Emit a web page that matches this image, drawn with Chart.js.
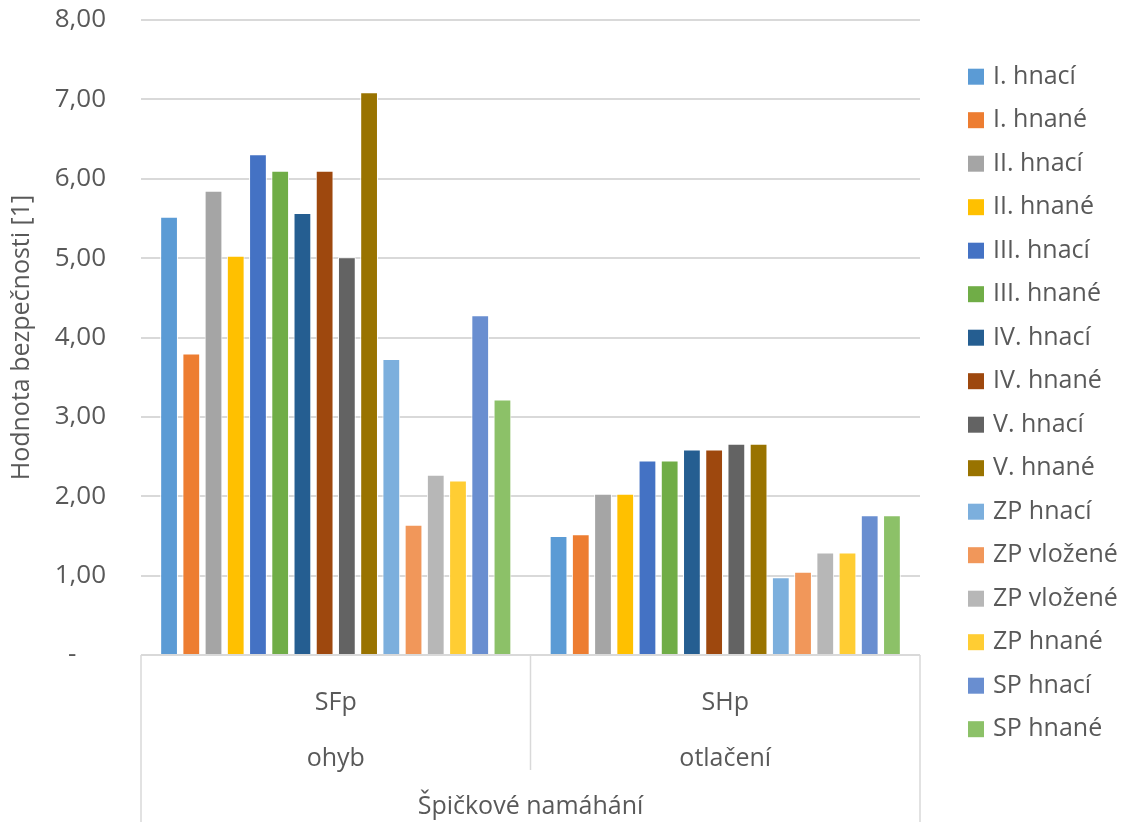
<!DOCTYPE html>
<html lang="cs">
<head>
<meta charset="utf-8">
<title>Špičkové namáhání – hodnota bezpečnosti</title>
<script src="https://cdn.jsdelivr.net/npm/chart.js@4/dist/chart.umd.min.js"></script>
<style>
  html, body { margin: 0; padding: 0; background: #ffffff; }
  #wrap { position: relative; width: 1126px; height: 822px; }
</style>
</head>
<body>
<div id="wrap"><canvas id="chart" width="1126" height="822"></canvas></div>
<script>
// Category levels of the horizontal axis
const categories = ['SFp', 'SHp'];
const subCategories = ['ohyb', 'otlačení'];
const groupTitle = 'Špičkové namáhání';
const yTitle = 'Hodnota bezpečnosti [1]';

// Series (gear wheels)
const seriesNames = [
  'I. hnací', 'I. hnané', 'II. hnací', 'II. hnané',
  'III. hnací', 'III. hnané', 'IV. hnací', 'IV. hnané',
  'V. hnací', 'V. hnané', 'ZP hnací', 'ZP vložené',
  'ZP vložené', 'ZP hnané', 'SP hnací', 'SP hnané'
];
const seriesColors = [
  '#5B9BD5', '#ED7D31', '#A5A5A5', '#FFC000',
  '#4472C4', '#70AD47', '#255E91', '#9E480E',
  '#636363', '#997300', '#7CAFDD', '#F1975A',
  '#B7B7B7', '#FFCD33', '#698ED0', '#8CC168'
];

// Safety factors: bending (SFp) and contact (SHp)
const sfpValues = [5.52, 3.80, 5.85, 5.03, 6.31, 6.10, 5.57, 6.10, 5.01, 7.09, 3.73, 1.64, 2.27, 2.20, 4.28, 3.22];
const shpValues = [1.50, 1.52, 2.03, 2.03, 2.45, 2.45, 2.59, 2.59, 2.66, 2.66, 0.98, 1.05, 1.29, 1.29, 1.76, 1.76];

// Value axis labels (accounting style: zero shown as a dash)
const yTickLabels = ['-\u2007\u2007', '1,00', '2,00', '3,00', '4,00', '5,00', '6,00', '7,00', '8,00'];

const FONT = "'Open Sans', 'Noto Sans', sans-serif";
const TEXT = '#595959';
const LINE = '#d9d9d9';

const datasets = seriesNames.map((name, i) => ({
  label: name,
  data: [sfpValues[i], shpValues[i]],
  backgroundColor: seriesColors[i],
  borderColor: '#ffffff',
  borderWidth: 1,
  barPercentage: 0.8,
  categoryPercentage: 0.913
}));

// Separators of the multi-level category axis
const categorySeparators = {
  id: 'categorySeparators',
  afterDraw(chart) {
    const { ctx, chartArea, scales } = chart;
    const x = scales.x;
    const bottom = chart.height;
    ctx.save();
    ctx.strokeStyle = LINE;
    ctx.lineWidth = 1.5;
    ctx.beginPath();
    ctx.moveTo(chartArea.left, chartArea.bottom);
    ctx.lineTo(chartArea.left, bottom);
    ctx.moveTo(chartArea.right, chartArea.bottom);
    ctx.lineTo(chartArea.right, bottom);
    for (let i = 0; i < categories.length - 1; i++) {
      const mid = (x.getPixelForValue(i) + x.getPixelForValue(i + 1)) / 2;
      ctx.moveTo(mid, chartArea.bottom);
      ctx.lineTo(mid, chartArea.bottom + 115);
    }
    ctx.stroke();
    ctx.restore();
  }
};

// Vertical legend on the right
const sideLegend = {
  id: 'sideLegend',
  afterDraw(chart) {
    const { ctx } = chart;
    ctx.save();
    ctx.font = `25px ${FONT}`;
    ctx.textBaseline = 'middle';
    ctx.textAlign = 'left';
    chart.data.datasets.forEach((ds, i) => {
      const cy = 76.7 + i * 43.5;
      ctx.fillStyle = ds.backgroundColor;
      ctx.fillRect(968, cy - 8, 16, 16);
      ctx.fillStyle = TEXT;
      ctx.fillText(ds.label, 993, cy);
    });
    ctx.restore();
  }
};

new Chart(document.getElementById('chart'), {
  type: 'bar',
  data: {
    labels: categories.map((c, i) => [c, subCategories[i]]),
    datasets
  },
  options: {
    responsive: false,
    animation: false,
    devicePixelRatio: 1,
    layout: { padding: { top: 20, right: 206, left: 0, bottom: 0 } },
    plugins: {
      legend: { display: false },
      tooltip: { enabled: false }
    },
    scales: {
      x: {
        grid: { display: false },
        border: { display: false },
        ticks: {
          color: TEXT,
          font: { family: FONT, size: 25, lineHeight: 2.24 },
          padding: 12,
          maxRotation: 0,
          autoSkip: false
        },
        title: {
          display: true,
          text: groupTitle,
          color: TEXT,
          font: { family: FONT, size: 25, lineHeight: 1.2 },
          padding: { top: 0, bottom: 0 }
        },
        afterFit(scale) {
          scale.height = 167;
          scale.paddingLeft = 0;
          scale.paddingRight = 0;
        }
      },
      y: {
        min: 0,
        max: 8,
        ticks: {
          stepSize: 1,
          color: TEXT,
          font: { family: FONT, size: 26 },
          padding: 35,
          callback: (value, index) => yTickLabels[index]
        },
        grid: { color: LINE, lineWidth: 2, drawTicks: false },
        border: { display: false },
        title: {
          display: true,
          text: yTitle,
          color: TEXT,
          font: { family: FONT, size: 25, lineHeight: 1.2 },
          padding: { top: 7, bottom: 0 }
        },
        afterFit(scale) {
          scale.width = 141;
          scale.paddingTop = 0;
          scale.paddingBottom = 0;
        }
      }
    }
  },
  plugins: [categorySeparators, sideLegend]
});
</script>
</body>
</html>
